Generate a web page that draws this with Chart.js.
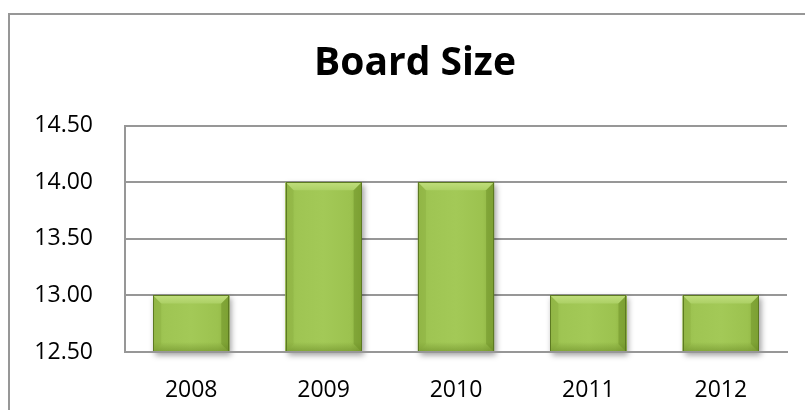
<!DOCTYPE html>
<html>
<head>
<meta charset="utf-8">
<script src="https://cdn.jsdelivr.net/npm/chart.js@4/dist/chart.umd.min.js"></script>
<style>
html,body{margin:0;padding:0;background:#fff;}
#wrap{width:805px;height:410px;position:relative;}
</style>
</head>
<body>
<div id="wrap"><canvas id="c" width="805" height="410"></canvas></div>
<script>
const categories = ["2008", "2009", "2010", "2011", "2012"];
const boardSize = [13, 14, 14, 13, 13];
const yTicks = [12.5, 13.0, 13.5, 14.0, 14.5];
const chartTitle = "Board Size";

const frame = {
  id: 'frame',
  beforeDraw(chart) {
    const ctx = chart.ctx;
    ctx.save();
    ctx.fillStyle = '#fff';
    ctx.fillRect(0, 0, chart.width, chart.height);
    ctx.strokeStyle = '#979797';
    ctx.lineWidth = 2;
    ctx.strokeRect(9, 14, chart.width + 20, chart.height + 20);
    ctx.restore();
  },
  afterLayout(chart) {
    if (chart.titleBlock) {
      chart.titleBlock.left = 40;
      chart.titleBlock.right = 790;
    }
  }
};

function barBoxes(chart) {
  const meta = chart.getDatasetMeta(0);
  const ca = chart.chartArea;
  return meta.data.map(el => {
    const p = el.getProps(['x', 'y', 'base', 'width'], true);
    let t = Math.min(p.y, p.base), b = Math.max(p.y, p.base);
    t = Math.max(t, ca.top); b = Math.min(b, ca.bottom);
    return {l: p.x - p.width / 2, r: p.x + p.width / 2, t: t, b: b};
  });
}

function poly(ctx, pts, fill) {
  ctx.fillStyle = fill;
  ctx.beginPath();
  ctx.moveTo(pts[0][0], pts[0][1]);
  for (let i = 1; i < pts.length; i++) ctx.lineTo(pts[i][0], pts[i][1]);
  ctx.closePath();
  ctx.fill();
}

const bevel = {
  id: 'bevel',
  beforeDatasetsDraw(chart) {
    const ctx = chart.ctx;
    ctx.save();
    barBoxes(chart).forEach(b => {
      ctx.shadowColor = 'rgba(0,0,0,0.4)';
      ctx.shadowBlur = 6;
      ctx.shadowOffsetX = 2;
      ctx.shadowOffsetY = 3;
      ctx.fillStyle = '#6b8c2a';
      ctx.fillRect(b.l, b.t, b.r - b.l, b.b - b.t);
    });
    ctx.restore();
  },
  afterDatasetsDraw(chart) {
    const ctx = chart.ctx;
    const d = 8;
    ctx.save();
    barBoxes(chart).forEach(b => {
      const w = b.r - b.l, h = b.b - b.t;
      const g = ctx.createLinearGradient(b.l, 0, b.r, 0);
      g.addColorStop(0, '#97bd4b');
      g.addColorStop(0.15, '#9fc553');
      g.addColorStop(0.5, '#a3c957');
      g.addColorStop(0.85, '#9cc24f');
      g.addColorStop(1, '#8cb03f');
      ctx.fillStyle = g;
      ctx.fillRect(b.l, b.t, w, h);
      // bottom darkening
      const gb = ctx.createLinearGradient(0, b.b - 10, 0, b.b);
      gb.addColorStop(0, 'rgba(90,120,25,0)');
      gb.addColorStop(1, 'rgba(90,120,25,0.45)');
      ctx.fillStyle = gb;
      ctx.fillRect(b.l, b.b - 10, w, 10);
      // top bevel
      const gt = ctx.createLinearGradient(0, b.t, 0, b.t + d);
      gt.addColorStop(0, '#c0de7c');
      gt.addColorStop(1, '#acd065');
      poly(ctx, [[b.l, b.t], [b.r, b.t], [b.r - d, b.t + d], [b.l + d, b.t + d]], gt);
      // left bevel
      poly(ctx, [[b.l, b.t], [b.l + d, b.t + d], [b.l + d, b.b - d], [b.l, b.b]], 'rgba(135,170,60,0.35)');
      // right bevel
      poly(ctx, [[b.r, b.t], [b.r - d, b.t + d], [b.r - d, b.b - d], [b.r, b.b]], 'rgba(105,140,35,0.45)');
      // outline
      ctx.strokeStyle = '#5d7a22';
      ctx.lineWidth = 1;
      ctx.strokeRect(Math.round(b.l) + 0.5, Math.round(b.t) + 0.5, Math.round(w) - 1, Math.round(h) - 1);
    });
    const ca = chart.chartArea;
    ctx.strokeStyle = '#979797';
    ctx.lineWidth = 2;
    ctx.beginPath();
    ctx.moveTo(ca.left, ca.bottom); ctx.lineTo(ca.right, ca.bottom);
    ctx.stroke();
    ctx.restore();
  }
};

function make() {
  new Chart(document.getElementById('c'), {
    type: 'bar',
    data: {
      labels: categories,
      datasets: [{
        data: boardSize,
        backgroundColor: '#a0c655',
        borderWidth: 0,
        barPercentage: 0.575,
        categoryPercentage: 1.0
      }]
    },
    options: {
      responsive: false,
      animation: false,
      events: [],
      layout: {padding: {left: 0, right: 18, top: 0, bottom: 0}},
      plugins: {
        legend: {display: false},
        tooltip: {enabled: false},
        title: {
          display: true,
          text: chartTitle,
          color: '#000',
          font: {family: '"Open Sans"', size: 39, weight: 'bold'},
          padding: {top: 40, bottom: 39}
        }
      },
      scales: {
        x: {
          grid: {display: false, drawTicks: false},
          border: {display: true, color: '#979797', width: 2},
          ticks: {color: '#000', font: {family: '"Open Sans"', size: 23}, padding: 25, maxRotation: 0},
          afterFit(s) { s.height = 58; }
        },
        y: {
          min: 12.5,
          max: 14.5,
          afterBuildTicks(s) { s.ticks = yTicks.map(v => ({value: v})); },
          grid: {color: '#979797', lineWidth: 2, drawTicks: false},
          border: {display: true, color: '#979797', width: 2},
          ticks: {color: '#000', font: {family: '"Open Sans"', size: 23}, padding: 32,
                  callback: v => Number(v).toFixed(2)},
          afterFit(s) { s.width = 125; }
        }
      }
    },
    plugins: [frame, bevel]
  });
}

Promise.all([
  document.fonts.load('bold 39px "Open Sans"'),
  document.fonts.load('23px "Open Sans"')
]).then(make, make);
</script>
</body>
</html>
